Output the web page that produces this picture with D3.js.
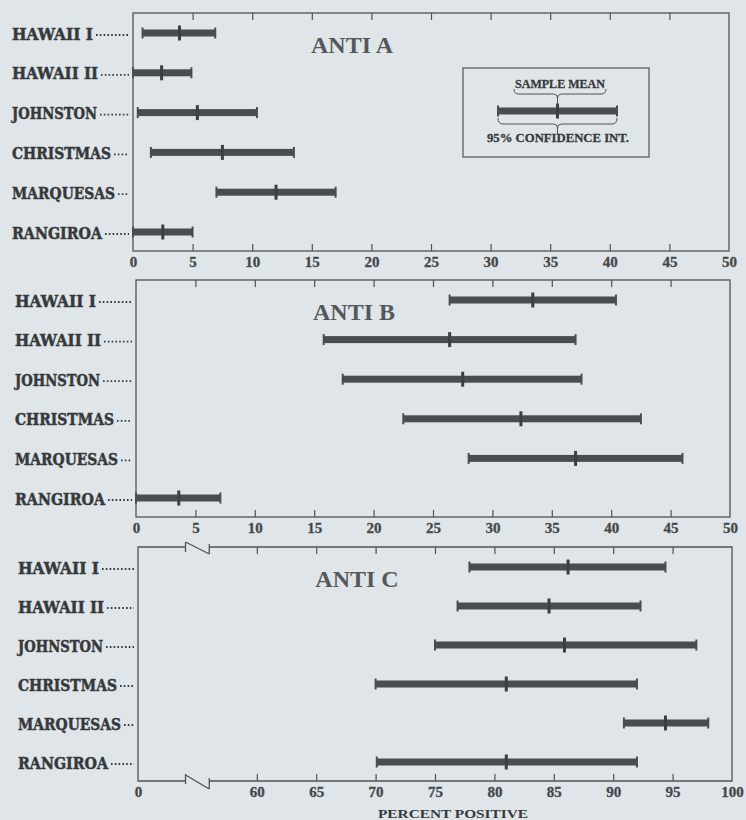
<!DOCTYPE html>
<html>
<head>
<meta charset="utf-8">
<script src="https://cdn.jsdelivr.net/npm/d3@7"></script>
<style>
  body { margin: 0; background: #dfe5e8; }
  svg { display: block; }
</style>
</head>
<body>
<svg id="chart" width="746" height="820"></svg>
<script>

// island categories, same order in every panel
const islands = ['HAWAII I', 'HAWAII II', 'JOHNSTON', 'CHRISTMAS', 'MARQUESAS', 'RANGIROA'];

// percent positive: 95% interval low, sample mean, interval high
const antiALow  = [0.8, 0, 0.4, 1.5, 7.0, 0];
const antiAMean = [3.9, 2.4, 5.4, 7.5, 12.0, 2.5];
const antiAHigh = [6.9, 4.9, 10.4, 13.5, 17.0, 5.0];

const antiBLow  = [26.4, 15.8, 17.4, 22.5, 28.0, 0];
const antiBMean = [33.4, 26.4, 27.5, 32.4, 37.0, 3.6];
const antiBHigh = [40.4, 37.0, 37.5, 42.5, 46.0, 7.1];

const antiCLow  = [77.9, 76.9, 75.0, 70.0, 90.9, 70.1];
const antiCMean = [86.2, 84.6, 85.9, 81.0, 94.4, 81.0];
const antiCHigh = [94.4, 92.3, 97.0, 92.0, 98.0, 92.0];

const ticksAB = [0, 5, 10, 15, 20, 25, 30, 35, 40, 45, 50];
const ticksC  = [50, 60, 65, 70, 75, 80, 85, 90, 95, 100];   // 50 sits at the broken origin, labelled 0

const svg = d3.select('#chart');

const ink = '#36393b';
const barColor = '#4a4d4f';

// the printed labels use a condensed slab face, squeeze ours to the same widths
const labelWidth = {'HAWAII I': 81, 'HAWAII II': 86, 'JOHNSTON': 85, 'CHRISTMAS': 99, 'MARQUESAS': 103, 'RANGIROA': 90};

const panels = [
    {title: 'ANTI A', low: antiALow, mean: antiAMean, high: antiAHigh,
     left: 133, right: 729, top: 13, bottom: 251, domain: [0, 50], ticks: ticksAB,
     labelX: 12, titleX: 352, legend: true},
    {title: 'ANTI B', low: antiBLow, mean: antiBMean, high: antiBHigh,
     left: 136, right: 730, top: 280, bottom: 517, domain: [0, 50], ticks: ticksAB,
     labelX: 15, titleX: 354},
    {title: 'ANTI C', low: antiCLow, mean: antiCMean, high: antiCHigh,
     left: 138, right: 732, top: 547, bottom: 781, domain: [50, 100], ticks: ticksC,
     labelX: 18, titleX: 357, brk: [54, 56]}
];

const drawPanel = p => {
    const g = svg.append('g');

    const x = d3.scaleLinear().domain(p.domain).range([p.left, p.right]);
    const y = d3.scalePoint().domain(islands).range([p.top + 20, p.bottom - 19]);

    // frame
    if (p.brk) {
        const b1 = x(p.brk[0]), b2 = x(p.brk[1]);
        const t = p.top, b = p.bottom;
        const path = [
            `M${b1},${t} H${p.left} V${b} H${b1}`,
            `M${b1},${t - 5} V${t + 5} M${b1},${t - 5} L${b2},${t + 7} M${b2},${t - 3} V${t + 7}`,
            `M${b2},${t} H${p.right} V${b} H${b2}`,
            `M${b1},${b - 7} V${b + 3} M${b1},${b - 6} L${b2},${b + 8} M${b2},${b - 3} V${b + 8}`
        ].join(' ');
        g.append('path').attr('d', path).attr('fill', 'none')
            .attr('stroke', '#505355').attr('stroke-width', 1.3);
    } else {
        g.append('rect')
            .attr('x', p.left).attr('y', p.top)
            .attr('width', p.right - p.left).attr('height', p.bottom - p.top)
            .attr('fill', 'none').attr('stroke', '#505355').attr('stroke-width', 1.3);
    }

    // inward ticks top and bottom
    const inner = p.ticks.filter(d => d !== p.domain[0] && d !== p.domain[1]);

    const topAxis = g.append('g')
        .attr('transform', `translate(0,${p.top})`)
        .call(d3.axisTop(x).tickValues(inner).tickSize(-7).tickFormat(''));

    const bottomAxis = g.append('g')
        .attr('transform', `translate(0,${p.bottom})`)
        .call(d3.axisBottom(x).tickValues(p.ticks).tickSizeInner(-7).tickSizeOuter(0).tickPadding(5)
            .tickFormat(d => (p.brk && d === p.domain[0]) ? '0' : d));

    [topAxis, bottomAxis].forEach(a => {
        a.select('.domain').remove();
        a.selectAll('line').attr('stroke', '#505355').attr('stroke-width', 1.2);
    });
    bottomAxis.selectAll('.tick')
        .filter(d => d === p.domain[0] || d === p.domain[1])
        .select('line').remove();
    bottomAxis.attr('font-family', null).attr('font-size', null);
    bottomAxis.selectAll('text')
        .attr('fill', '#45484b')
        .attr('stroke', '#45484b').attr('stroke-width', 0.3)
        .style('font-family', '"Liberation Serif", serif')
        .style('font-weight', 'bold')
        .style('font-size', '15px');

    // title
    g.append('text')
        .attr('x', p.titleX).attr('y', p.top + 40)
        .attr('text-anchor', 'middle')
        .attr('fill', '#55585b')
        .style('font-family', '"Liberation Serif", serif')
        .style('font-weight', 'bold')
        .style('font-size', '24px')
        .text(p.title);

    // row labels with dotted leaders
    const labels = g.selectAll('.lab')
        .data(islands)
        .enter()
        .append('text')
        .attr('class', 'lab')
        .attr('x', p.labelX)
        .attr('y', d => y(d) + 6.5)
        .attr('textLength', d => labelWidth[d])
        .attr('lengthAdjust', 'spacingAndGlyphs')
        .attr('fill', ink)
        .attr('stroke', ink).attr('stroke-width', 0.5)
        .style('font-family', '"DejaVu Serif", serif')
        .style('font-stretch', 'condensed')
        .style('font-weight', 'bold')
        .style('font-size', '17.5px')
        .text(d => d);

    labels.each(function(d) {
        const end = p.labelX + labelWidth[d] + 3;
        g.append('line')
            .attr('x1', end).attr('x2', p.left - 4)
            .attr('y1', y(d) + 2).attr('y2', y(d) + 2)
            .attr('stroke', ink).attr('stroke-width', 1.8)
            .attr('stroke-dasharray', '1.6,2.2');
    });

    // interval bars
    const rows = islands.map((d, i) => ({island: d, low: p.low[i], mean: p.mean[i], high: p.high[i]}));

    g.selectAll('.bar')
        .data(rows)
        .enter()
        .append('rect')
        .attr('class', 'bar')
        .attr('x', d => x(d.low))
        .attr('y', d => y(d.island) - 3.5)
        .attr('width', d => x(d.high) - x(d.low))
        .attr('height', 7)
        .attr('fill', barColor);

    ['low', 'high'].forEach(k => {
        g.selectAll('.cap-' + k)
            .data(rows)
            .enter()
            .append('line')
            .attr('x1', d => x(d[k])).attr('x2', d => x(d[k]))
            .attr('y1', d => y(d.island) - 5.5).attr('y2', d => y(d.island) + 5.5)
            .attr('stroke', barColor).attr('stroke-width', 2);
    });

    g.selectAll('.mean')
        .data(rows)
        .enter()
        .append('line')
        .attr('x1', d => x(d.mean)).attr('x2', d => x(d.mean))
        .attr('y1', d => y(d.island) - 7.5).attr('y2', d => y(d.island) + 7.5)
        .attr('stroke', '#3c3f41').attr('stroke-width', 3);

    if (p.legend) drawLegend();
};

const drawLegend = () => {
    const lg = svg.append('g');
    lg.append('rect')
        .attr('x', 463).attr('y', 68).attr('width', 186).attr('height', 89)
        .attr('fill', 'none').attr('stroke', '#505355').attr('stroke-width', 1.2);

    const lx = d3.scaleLinear().domain([0, 1]).range([498, 617]);
    const sample = {low: 0, mean: 0.5, high: 1};
    const ly = 111;

    lg.append('rect')
        .attr('x', lx(sample.low)).attr('y', ly - 3.5)
        .attr('width', lx(sample.high) - lx(sample.low)).attr('height', 7)
        .attr('fill', barColor);
    [sample.low, sample.high].forEach(v => {
        lg.append('line')
            .attr('x1', lx(v)).attr('x2', lx(v)).attr('y1', ly - 5.5).attr('y2', ly + 5.5)
            .attr('stroke', barColor).attr('stroke-width', 2);
    });
    lg.append('line')
        .attr('x1', lx(sample.mean)).attr('x2', lx(sample.mean)).attr('y1', ly - 7.5).attr('y2', ly + 7.5)
        .attr('stroke', '#3c3f41').attr('stroke-width', 3);

    // braces
    const m = lx(sample.mean);
    lg.append('path')
        .attr('d', `M514,89 Q514,94 519,94 H${m - 4} Q${m},94 ${m},98 Q${m},94 ${m + 4},94 H601 Q606,94 606,89 M${m},98 V${ly - 6}`)
        .attr('fill', 'none').attr('stroke', '#505355').attr('stroke-width', 1);
    lg.append('path')
        .attr('d', `M${lx(0)},118 Q${lx(0)},124 ${lx(0) + 5},124 H${m - 4} Q${m},124 ${m},128 Q${m},124 ${m + 4},124 H${lx(1) - 5} Q${lx(1)},124 ${lx(1)},118 M${m},128 V134`)
        .attr('fill', 'none').attr('stroke', '#505355').attr('stroke-width', 1);

    const legendText = (t, cx, by, len) => lg.append('text')
        .attr('x', cx).attr('y', by)
        .attr('text-anchor', 'middle')
        .attr('textLength', len).attr('lengthAdjust', 'spacingAndGlyphs')
        .attr('fill', ink)
        .attr('stroke', ink).attr('stroke-width', 0.3)
        .style('font-family', '"Liberation Serif", serif')
        .style('font-weight', 'bold')
        .style('font-size', '13px')
        .text(t);

    legendText('SAMPLE MEAN', 560, 88, 90);
    legendText('95% CONFIDENCE INT.', 558, 142, 142);
};

panels.forEach(drawPanel);

svg.append('text')
    .attr('x', 453).attr('y', 818)
    .attr('text-anchor', 'middle')
    .attr('textLength', 150).attr('lengthAdjust', 'spacingAndGlyphs')
    .attr('fill', ink)
    .style('font-family', '"Liberation Serif", serif')
    .style('font-weight', 'bold')
    .style('font-size', '12.5px')
    .text('PERCENT POSITIVE');

</script>
</body>
</html>
